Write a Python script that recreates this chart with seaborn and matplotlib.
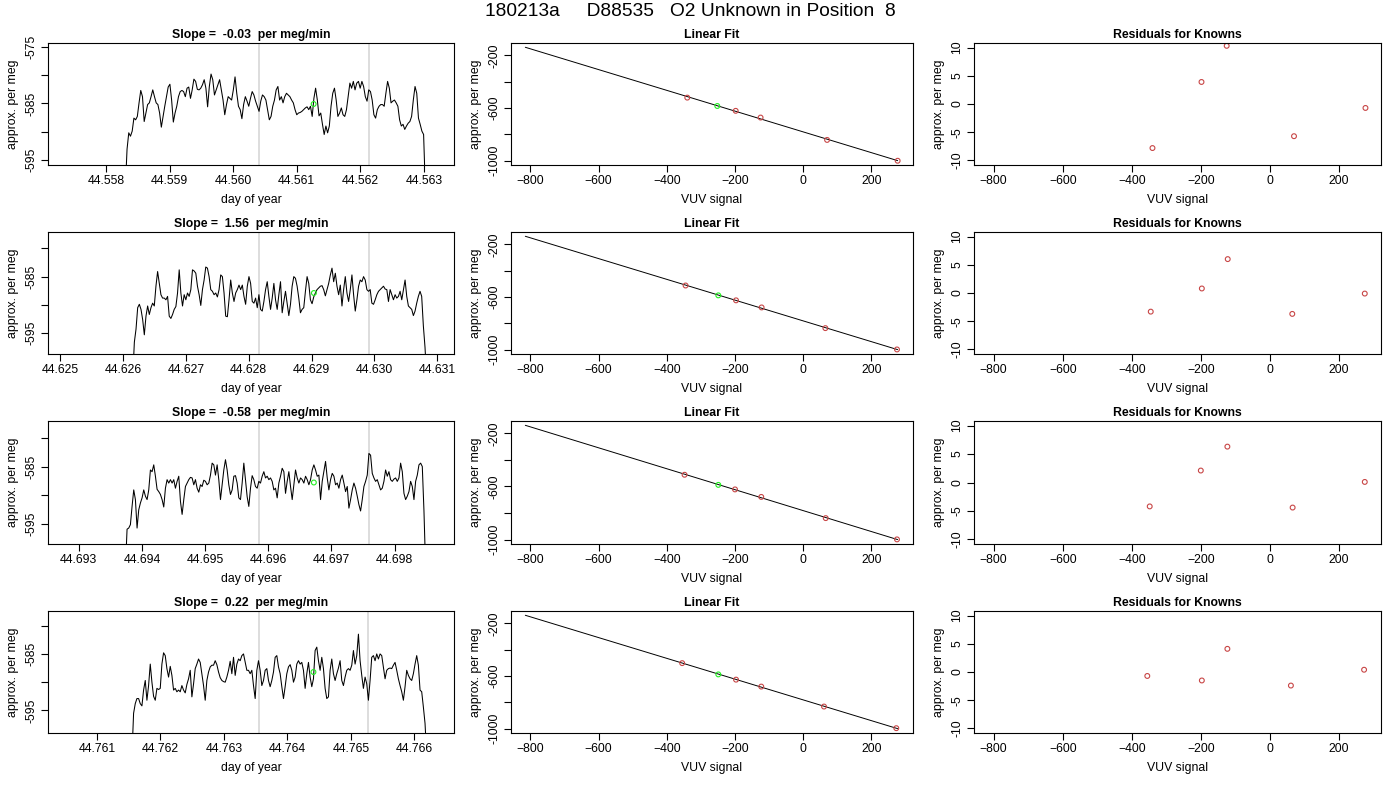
import numpy as np
import matplotlib
matplotlib.use("Agg")
import matplotlib.pyplot as plt
from matplotlib.ticker import MultipleLocator, FuncFormatter, FormatStrFormatter
import seaborn as sns

main_title = "180213a     D88535   O2 Unknown in Position  8"
slopes = ["-0.03", "1.56", "-0.58", "0.22"]

# first / last sample time (day of year) of each trace, samples evenly spaced
trace_start = [44.558304, 44.626152, 44.693739, 44.761551]
trace_end = [44.563021, 44.630831, 44.698491, 44.766194]

trace_1 = [-600, -593.1, -590.2, -590.8, -589.9, -587.6, -587.9, -587.3, -584.9, -582.7, -583.8, -588.2,
           -586.7, -585.2, -584.9, -583.8, -582.6, -583.8, -584.9, -585.2, -586.7, -589.2, -587.3, -585.5,
           -583.8, -582.1, -581.6, -584.4, -588.3, -586.7, -585.5, -583.8, -582.9, -582.7, -582.9, -583.8,
           -582.3, -582.1, -584.1, -582.6, -580.7, -581.1, -582.5, -582.6, -582.3, -581.7, -580.8, -582.3,
           -585.6, -582.0, -579.8, -580.8, -583.5, -582.6, -581.7, -580.8, -582.6, -584.4, -587.0, -585.2,
           -583.8, -584.1, -584.4, -582.6, -580.3, -583.2, -585.5, -586.1, -587.7, -585.2, -583.8, -584.6,
           -585.5, -584.1, -582.9, -583.5, -584.6, -585.5, -586.4, -584.6, -583.5, -583.8, -584.4, -586.1,
           -587.9, -587.3, -585.5, -584.4, -582.6, -582.0, -584.4, -583.8, -584.9, -583.8, -583.2, -583.5,
           -583.8, -584.4, -584.9, -586.1, -587.0, -586.7, -586.6, -586.4, -586.1, -585.8, -585.6, -586.1,
           -585.5, -587.3, -584.1, -582.3, -584.4, -587.2, -586.7, -588.7, -590.5, -589.0, -590.2, -589.0,
           -585.5, -583.2, -582.3, -584.4, -587.3, -586.7, -585.8, -587.0, -587.3, -586.1, -583.8, -581.4,
           -582.3, -581.1, -582.6, -581.4, -581.1, -582.3, -581.1, -582.0, -583.8, -584.6, -582.6, -582.9,
           -584.4, -587.0, -587.6, -586.1, -585.5, -585.2, -585.2, -585.5, -583.2, -581.1, -582.3, -584.9,
           -584.6, -584.4, -584.9, -585.5, -587.9, -589.0, -588.7, -589.6, -589.0, -588.5, -588.2, -587.3,
           -584.4, -582.0, -583.2, -587.6, -588.7, -589.9, -590.5, -600]

trace_2 = [-603, -596.6, -594.3, -590.5, -589.9, -590.8, -592.6, -595.3, -592.0, -590.2, -591.7, -590.5,
           -589.7, -590.2, -586.7, -584.1, -586.2, -588.2, -588.8, -588.8, -589.1, -588.5, -592.0, -592.4,
           -591.7, -590.8, -590.3, -587.9, -583.8, -587.9, -590.2, -588.2, -589.1, -587.9, -588.5, -587.3,
           -583.8, -584.0, -584.4, -586.7, -588.2, -590.1, -587.3, -585.6, -583.3, -583.5, -585.0, -587.3,
           -587.6, -588.2, -587.9, -588.6, -587.3, -584.7, -585.0, -587.9, -592.0, -592.1, -589.1, -585.6,
           -587.9, -589.4, -587.9, -587.3, -586.5, -587.3, -586.5, -588.5, -589.9, -586.7, -585.0, -586.2,
           -589.4, -589.7, -588.8, -590.5, -588.2, -590.8, -591.1, -589.4, -587.3, -585.9, -588.5, -590.8,
           -588.8, -586.2, -589.1, -590.8, -588.2, -585.9, -591.4, -589.4, -587.6, -589.7, -591.9, -589.9,
           -586.7, -585.0, -585.3, -586.7, -588.8, -591.4, -590.8, -590.5, -587.6, -585.0, -586.2, -589.1,
           -589.8, -588.6, -587.9, -587.3, -587.0, -586.7, -586.6, -587.3, -588.4, -587.3, -586.2, -584.7,
           -583.5, -585.9, -584.4, -586.7, -588.2, -586.5, -590.2, -587.3, -585.0, -587.9, -589.4, -587.3,
           -584.7, -588.2, -591.1, -589.1, -586.7, -585.6, -585.9, -585.0, -585.6, -587.3, -587.6, -587.3,
           -589.7, -589.9, -589.1, -588.2, -587.6, -587.3, -587.0, -586.7, -587.2, -587.3, -589.4, -587.3,
           -588.2, -589.1, -588.2, -588.8, -588.5, -587.6, -589.1, -587.3, -585.6, -588.5, -590.2, -590.5,
           -590.8, -591.9, -591.1, -589.7, -588.5, -587.6, -588.5, -593.7, -597.5, -603]

trace_3 = [-603, -596.0, -595.8, -595.2, -592.0, -589.1, -590.8, -595.8, -592.6, -591.4, -590.5, -589.1,
           -590.2, -590.8, -589.1, -585.6, -585.9, -584.7, -586.7, -589.0, -589.4, -589.9, -590.8, -592.1,
           -588.8, -587.3, -587.9, -587.3, -587.9, -587.3, -588.8, -587.6, -586.7, -591.1, -593.4, -590.8,
           -588.5, -587.9, -587.3, -586.9, -587.0, -588.2, -587.3, -588.8, -589.5, -588.2, -588.5, -587.4,
           -587.6, -588.2, -587.9, -586.5, -584.4, -584.7, -586.5, -584.7, -587.3, -590.8, -588.2, -585.6,
           -583.8, -585.6, -588.2, -589.9, -589.1, -586.7, -586.6, -587.9, -590.5, -590.8, -587.9, -584.4,
           -587.3, -590.3, -592.0, -588.8, -586.6, -587.3, -588.5, -588.8, -587.6, -587.9, -586.7, -585.9,
           -587.0, -586.7, -587.3, -587.0, -587.6, -589.1, -588.8, -590.5, -587.9, -586.7, -585.3, -585.9,
           -589.7, -587.6, -585.9, -588.5, -590.8, -588.2, -585.6, -587.0, -587.9, -587.0, -587.3, -587.9,
           -586.7, -587.3, -588.2, -587.3, -585.6, -584.7, -585.6, -586.7, -586.5, -590.8, -587.6, -585.9,
           -584.1, -587.0, -589.1, -587.3, -586.2, -586.7, -588.2, -587.9, -588.8, -587.3, -586.5, -587.9,
           -589.4, -588.5, -592.3, -590.8, -589.1, -587.9, -588.8, -590.2, -591.7, -592.8, -590.8, -588.5,
           -587.6, -586.5, -582.7, -583.0, -586.2, -587.0, -587.6, -587.3, -588.2, -589.1, -588.8, -587.6,
           -585.6, -586.7, -585.9, -587.3, -587.6, -587.2, -587.0, -587.6, -587.0, -584.4, -585.9, -589.7,
           -590.8, -590.2, -589.4, -587.6, -588.5, -590.8, -587.6, -586.5, -584.7, -584.4, -585.0, -592.8,
           -603]

trace_4 = [-603, -595.5, -593.8, -592.9, -592.9, -593.8, -594.2, -591.4, -589.7, -593.2, -590.6, -586.8,
           -590.0, -592.5, -593.2, -591.1, -591.3, -591.1, -586.8, -584.8, -585.3, -587.6, -589.1, -587.2,
           -588.8, -591.4, -591.1, -591.7, -591.4, -591.7, -590.6, -591.4, -591.9, -590.4, -589.4, -587.9,
           -592.6, -590.3, -587.6, -586.8, -585.9, -586.5, -588.5, -590.6, -593.2, -589.7, -588.2, -587.3,
           -587.0, -587.0, -586.2, -586.9, -588.2, -589.2, -589.7, -589.9, -590.0, -589.1, -587.9, -586.3,
           -588.5, -585.6, -588.8, -586.8, -585.9, -586.2, -585.3, -585.0, -586.5, -587.9, -587.9, -588.5,
           -587.9, -590.6, -592.9, -587.9, -586.2, -587.9, -590.6, -589.7, -587.9, -587.6, -589.7, -590.8,
           -589.7, -588.2, -585.6, -585.3, -587.3, -588.5, -590.8, -592.9, -590.8, -588.5, -587.3, -586.9,
           -587.9, -590.0, -589.1, -586.8, -586.2, -586.8, -586.5, -587.9, -591.1, -588.5, -586.5, -589.1,
           -590.8, -589.4, -584.4, -583.8, -586.2, -587.9, -585.6, -587.6, -591.1, -592.9, -592.6, -587.9,
           -585.9, -588.5, -589.7, -588.5, -587.5, -586.2, -589.7, -590.6, -589.1, -587.9, -587.6, -587.9,
           -587.0, -584.4, -586.8, -585.3, -581.5, -586.2, -588.8, -591.1, -589.1, -590.3, -593.2, -589.7,
           -585.6, -585.3, -586.2, -585.0, -585.9, -585.0, -585.3, -587.3, -589.4, -587.9, -587.6, -587.5,
           -587.6, -587.0, -586.5, -587.9, -589.4, -590.6, -591.7, -593.2, -590.8, -587.9, -588.8, -589.4,
           -589.7, -588.5, -586.8, -585.3, -587.0, -591.4, -591.7, -594.4, -597.3, -603]

traces = [trace_1, trace_2, trace_3, trace_4]

# grey markers for the averaging window
window_start = [44.560406, 44.628165, 44.695856, 44.763550]
window_end = [44.562130, 44.629912, 44.697593, 44.765276]

# unknown (green point)
unknown_time = [44.561265, 44.629036, 44.696722, 44.764410]
unknown_mean = [-585.1, -587.9, -587.8, -588.2]
unknown_vuv = [-252, -249, -249, -249]

# knowns: VUV signal, assigned per meg, residuals
known_vuv = [[-340, -198, -125, 70, 277],
             [-345, -197, -122, 65, 275],
             [-348, -200, -123, 66, 275],
             [-355, -197, -123, 61, 273]]
known_permeg = [[-521.6, -621.8, -672.9, -842.6, -1000.7],
                [-513.1, -625.7, -679.6, -836.6, -998.5],
                [-511.7, -622.0, -678.5, -838.1, -998.3],
                [-502.7, -628.0, -680.7, -832.2, -996.4]]
residuals = [[-7.8, 3.9, 10.3, -5.7, -0.7],
             [-3.3, 0.8, 6.0, -3.7, -0.1],
             [-4.2, 2.1, 6.3, -4.4, 0.1],
             [-0.7, -1.5, 4.1, -2.4, 0.4]]

fit_slope = [-0.788, -0.788, -0.788, -0.788]
fit_icpt = [-781.7, -781.7, -781.7, -781.7]
fit_range = [-815, 277]

# axis limits (day of year) for the trace panels
day_lims = [(44.557088, 44.563472), (44.624804, 44.631266),
            (44.692514, 44.698940), (44.760229, 44.766624)]

sns.set_style("ticks")
plt.rcParams['font.family'] = ['Liberation Sans', 'DejaVu Sans']
plt.rcParams['text.color'] = 'black'
plt.rcParams['axes.labelcolor'] = 'black'

W, H = 1400, 800
col_left = [48, 511, 974]
col_right = [454, 913, 1381]
row_top = [43, 232, 421, 611]
row_bottom = [165, 354, 544, 733]
red = '#c84646'
green = '#22ee22'
fs = 8.8


def box(l, t, r, b):
    return [l / W, 1 - b / H, (r - l) / W, (b - t) / H]


def r_style(ax):
    for s in ax.spines.values():
        s.set_visible(True)
        s.set_color('black')
        s.set_linewidth(0.8)
    ax.tick_params(direction='out', length=5, width=0.8, labelsize=fs,
                   colors='black', pad=2.5)
    ax.tick_params(axis='y', labelrotation=90)
    plt.setp(ax.get_yticklabels(), va='center')
    ax.grid(False)


fig = plt.figure(figsize=(14, 8), dpi=100)
fig.text(0.493, 0.996, main_title, ha='center', va='top', fontsize=13.8)

for i in range(4):
    # --- trace panel ---
    ax = fig.add_axes(box(col_left[0], row_top[i], col_right[0], row_bottom[i]))
    t = np.linspace(trace_start[i], trace_end[i], len(traces[i]))
    ax.axvline(window_start[i], color='#d3d3d3', lw=1.1)
    ax.axvline(window_end[i], color='#d3d3d3', lw=1.1)
    sns.lineplot(x=t, y=traces[i], ax=ax, color='black', linewidth=0.75,
                 estimator=None, sort=False)
    sns.scatterplot(x=[unknown_time[i]], y=[unknown_mean[i]], ax=ax, marker='o', s=12,
                    facecolor='none', edgecolor=green, linewidth=0.8, zorder=5)
    ax.set_xlim(*day_lims[i])
    ax.set_ylim(unknown_mean[i] - 10.8, unknown_mean[i] + 10.8)
    ax.xaxis.set_major_locator(MultipleLocator(0.001))
    ax.xaxis.set_major_formatter(FormatStrFormatter('%.3f'))
    ax.yaxis.set_major_locator(MultipleLocator(5))
    ax.yaxis.set_major_formatter(FuncFormatter(
        lambda v, p: f"{v:.0f}" if round(v) % 10 == 5 else ""))
    ax.set_title(f"Slope =  {slopes[i]}  per meg/min", fontsize=fs,
                 fontweight='bold', pad=3.5)
    ax.set_xlabel("day of year", fontsize=fs, labelpad=5)
    ax.set_ylabel("approx. per meg", fontsize=fs, labelpad=5)
    r_style(ax)

    # --- linear fit panel ---
    ax = fig.add_axes(box(col_left[1], row_top[i], col_right[1], row_bottom[i]))
    fx = np.array(fit_range)
    sns.lineplot(x=fx, y=fit_icpt[i] + fit_slope[i] * fx, ax=ax, color='black',
                 linewidth=0.7, estimator=None)
    sns.scatterplot(x=known_vuv[i], y=known_permeg[i], ax=ax, marker='o', s=12,
                    facecolor='none', edgecolor=red, linewidth=0.8, zorder=4)
    sns.scatterplot(x=[unknown_vuv[i]], y=[unknown_mean[i]], ax=ax, marker='o', s=12,
                    facecolor='none', edgecolor=green, linewidth=0.8, zorder=5)
    ax.set_xlim(-857, 322)
    ax.set_ylim(-1033, -107)
    ax.xaxis.set_major_locator(MultipleLocator(200))
    ax.yaxis.set_major_locator(MultipleLocator(200))
    ax.yaxis.set_major_formatter(FuncFormatter(
        lambda v, p: f"{v:.0f}" if round(v) % 400 == 200 else ""))
    ax.set_title("Linear Fit", fontsize=fs, fontweight='bold', pad=3.5)
    ax.set_xlabel("VUV signal", fontsize=fs, labelpad=5)
    ax.set_ylabel("approx. per meg", fontsize=fs, labelpad=5)
    r_style(ax)

    # --- residual panel ---
    ax = fig.add_axes(box(col_left[2], row_top[i], col_right[2], row_bottom[i]))
    sns.scatterplot(x=known_vuv[i], y=residuals[i], ax=ax, marker='o', s=12,
                    facecolor='none', edgecolor=red, linewidth=0.8)
    ax.set_xlim(-857, 322)
    ax.set_ylim(-10.8, 10.8)
    ax.xaxis.set_major_locator(MultipleLocator(200))
    ax.yaxis.set_major_locator(MultipleLocator(5))
    ax.yaxis.set_major_formatter(FormatStrFormatter('%.0f'))
    ax.set_title("Residuals for Knowns", fontsize=fs, fontweight='bold', pad=3.5)
    ax.set_xlabel("VUV signal", fontsize=fs, labelpad=5)
    ax.set_ylabel("approx. per meg", fontsize=fs, labelpad=5)
    r_style(ax)

fig.savefig("out.png", dpi=100)
